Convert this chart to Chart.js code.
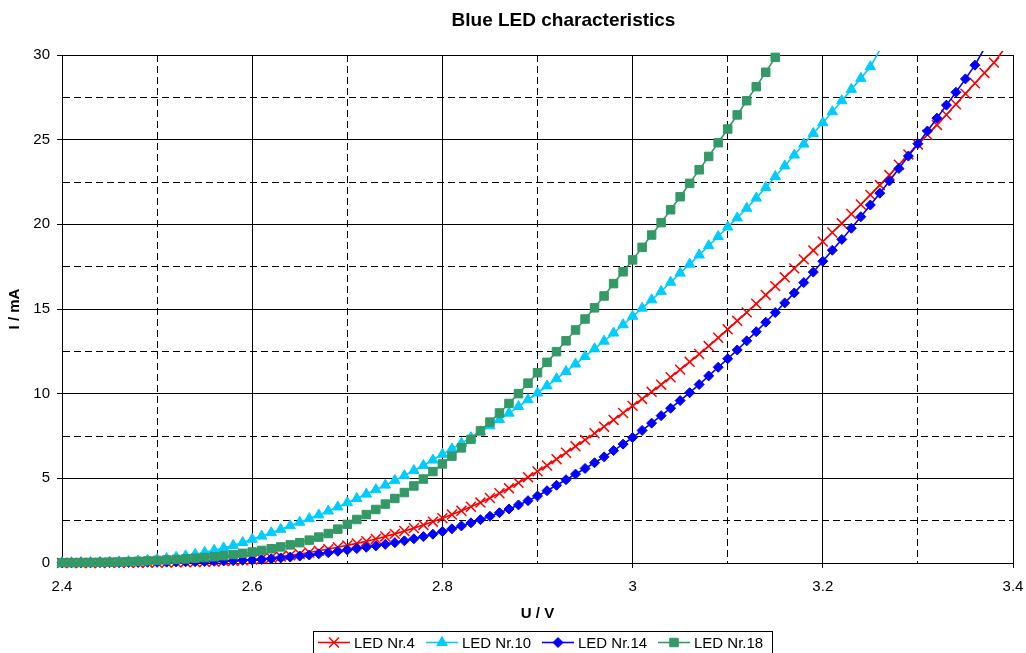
<!DOCTYPE html>
<html>
<head>
<meta charset="utf-8">
<script src="https://cdn.jsdelivr.net/npm/chart.js@4/dist/chart.umd.min.js"></script>
<style>
  html, body { margin: 0; padding: 0; background: #fff; }
  #wrap { width: 1026px; height: 653px; position: relative; }
</style>
</head>
<body>
<div id="wrap"><canvas id="c" width="1026" height="653"></canvas></div>
<script>
// ---- data ----
const voltage = [
  2.40,2.41,2.42,2.43,2.44,2.45,2.46,2.47,2.48,2.49,
  2.50,2.51,2.52,2.53,2.54,2.55,2.56,2.57,2.58,2.59,
  2.60,2.61,2.62,2.63,2.64,2.65,2.66,2.67,2.68,2.69,
  2.70,2.71,2.72,2.73,2.74,2.75,2.76,2.77,2.78,2.79,
  2.80,2.81,2.82,2.83,2.84,2.85,2.86,2.87,2.88,2.89,
  2.90,2.91,2.92,2.93,2.94,2.95,2.96,2.97,2.98,2.99,
  3.00,3.01,3.02,3.03,3.04,3.05,3.06,3.07,3.08,3.09,
  3.10,3.11,3.12,3.13,3.14,3.15,3.16,3.17,3.18,3.19,
  3.20,3.21,3.22,3.23,3.24,3.25,3.26,3.27,3.28,3.29,
  3.30,3.31,3.32,3.33,3.34,3.35,3.36,3.37,3.38,3.39
];

const led4 = [
  0.00,0.00,0.00,0.00,0.00,0.01,0.01,0.01,0.02,0.02,
  0.03,0.03,0.04,0.05,0.06,0.07,0.09,0.11,0.13,0.16,
  0.20,0.25,0.31,0.38,0.45,0.53,0.62,0.72,0.82,0.93,
  1.04,1.16,1.29,1.42,1.57,1.72,1.89,2.06,2.25,2.44,
  2.65,2.86,3.08,3.32,3.57,3.84,4.12,4.42,4.74,5.07,
  5.41,5.76,6.13,6.51,6.89,7.27,7.66,8.05,8.45,8.86,
  9.28,9.69,10.11,10.53,10.97,11.42,11.88,12.34,12.81,13.30,
  13.80,14.30,14.80,15.31,15.83,16.35,16.87,17.40,17.93,18.46,
  18.98,19.52,20.06,20.61,21.17,21.74,22.32,22.91,23.52,24.13,
  24.72,25.29,25.87,26.47,27.09,27.72,28.33,28.94,29.55,30.30
];

const led10 = [
  0.02,0.02,0.03,0.03,0.04,0.05,0.07,0.09,0.12,0.16,
  0.21,0.27,0.34,0.42,0.52,0.63,0.75,0.89,1.04,1.21,
  1.40,1.59,1.79,1.99,2.20,2.41,2.62,2.84,3.07,3.31,
  3.56,3.81,4.07,4.33,4.60,4.88,5.16,5.46,5.76,6.08,
  6.42,6.74,7.07,7.40,7.75,8.10,8.47,8.85,9.24,9.64,
  10.04,10.46,10.88,11.31,11.75,12.20,12.65,13.10,13.58,14.07,
  14.57,15.05,15.54,16.04,16.58,17.12,17.65,18.19,18.74,19.28,
  19.84,20.38,20.95,21.55,22.18,22.82,23.45,24.09,24.74,25.37,
  26.00,26.65,27.30,27.97,28.62,29.31,30.30
];

const led14 = [
  0.01,0.01,0.01,0.01,0.02,0.02,0.02,0.03,0.03,0.04,
  0.04,0.05,0.06,0.07,0.08,0.09,0.10,0.12,0.14,0.16,
  0.18,0.21,0.25,0.30,0.35,0.41,0.47,0.54,0.61,0.69,
  0.77,0.85,0.93,1.01,1.10,1.20,1.31,1.43,1.56,1.70,
  1.86,2.02,2.19,2.37,2.56,2.76,2.97,3.19,3.43,3.68,
  3.96,4.27,4.59,4.92,5.25,5.58,5.92,6.27,6.64,7.02,
  7.41,7.83,8.26,8.70,9.14,9.59,10.06,10.54,11.05,11.56,
  12.06,12.58,13.12,13.66,14.22,14.79,15.36,15.95,16.56,17.18,
  17.82,18.47,19.11,19.77,20.45,21.14,21.84,22.56,23.30,24.03,
  24.76,25.51,26.27,27.04,27.80,28.59,29.40,30.40
];

const led18 = [
  0.02,0.02,0.03,0.03,0.04,0.05,0.06,0.08,0.10,0.12,
  0.15,0.18,0.21,0.24,0.28,0.32,0.37,0.43,0.50,0.57,
  0.65,0.74,0.84,0.95,1.07,1.20,1.35,1.53,1.74,2.00,
  2.28,2.57,2.86,3.16,3.48,3.81,4.16,4.55,4.96,5.40,
  5.85,6.31,6.80,7.30,7.80,8.32,8.86,9.42,10.00,10.62,
  11.24,11.85,12.48,13.12,13.76,14.41,15.07,15.77,16.50,17.20,
  17.90,18.64,19.37,20.10,20.86,21.63,22.42,23.22,24.01,24.82,
  25.63,26.46,27.30,28.13,28.98,29.86
];

const seriesNames = ['LED Nr.4', 'LED Nr.10', 'LED Nr.14', 'LED Nr.18'];
const xTicks = [2.4, 2.5, 2.6, 2.7, 2.8, 2.9, 3.0, 3.1, 3.2, 3.3, 3.4];
const xMajorTicks = [2.4, 2.6, 2.8, 3.0, 3.2, 3.4];
const xTickLabels = ['2.4', '2.6', '2.8', '3', '3.2', '3.4'];
const yTicks = [0, 2.5, 5, 7.5, 10, 12.5, 15, 17.5, 20, 22.5, 25, 27.5, 30];
const yMajorTicks = [0, 5, 10, 15, 20, 25, 30];
const yTickLabels = ['0', '5', '10', '15', '20', '25', '30'];
const chartTitle = 'Blue LED characteristics';
const xTitle = 'U / V';
const yTitle = 'I / mA';

// ---- styling ----
const FONT = 'Arial, "Liberation Sans", sans-serif';
const YMAX = 30;
const styles = [
  { color: '#FF0000', pointStyle: 'crossRot', radius: 7, pbw: 1.5, order: 4 },
  { color: '#00CCFF', pointStyle: 'triangle', radius: 6, pbw: 1, order: 3 },
  { color: '#0000FF', pointStyle: 'rectRot', radius: 5, pbw: 1, order: 2 },
  { color: '#339966', pointStyle: 'rect', radius: 6, pbw: 1, order: 1 }
];
const seriesValues = [led4, led10, led14, led18];

function near(list, v) { return list.findIndex(m => Math.abs(m - v) < 1e-9); }

const datasets = seriesValues.map((vals, i) => ({
  label: seriesNames[i],
  data: vals.map((y, k) => ({ x: voltage[k], y: y })),
  borderColor: styles[i].color,
  backgroundColor: styles[i].color,
  borderWidth: 1.6,
  pointStyle: styles[i].pointStyle,
  pointRadius: ctx => (ctx.raw && ctx.raw.y > YMAX ? 0 : styles[i].radius),
  pointBorderWidth: styles[i].pbw,
  pointHoverRadius: styles[i].radius,
  tension: 0,
  order: styles[i].order,
  clip: { left: 8, right: 8, top: 4, bottom: 8 }
}));

const minorDash = [7, 4];

const overlay = {
  id: 'overlay',
  afterDraw(chart) {
    const ctx = chart.ctx;
    ctx.save();
    // title
    ctx.fillStyle = '#000';
    ctx.font = 'bold 19px ' + FONT;
    ctx.textAlign = 'center';
    ctx.textBaseline = 'alphabetic';
    ctx.fillText(chartTitle, 563.5, 26);

    // legend box
    ctx.strokeStyle = '#000';
    ctx.lineWidth = 1;
    ctx.strokeRect(313.5, 631.5, 459, 30);
    const textX = [354, 462, 578, 694];
    const ly = 642.5;
    ctx.font = '15px ' + FONT;
    ctx.textAlign = 'left';
    for (let i = 0; i < 4; i++) {
      const st = styles[i];
      const x0 = textX[i] - 36, x1 = textX[i] - 4;
      ctx.strokeStyle = st.color;
      ctx.fillStyle = st.color;
      ctx.lineWidth = 1.6;
      ctx.beginPath();
      ctx.moveTo(x0, ly);
      ctx.lineTo(x1, ly);
      ctx.stroke();
      ctx.lineWidth = st.pbw;
      Chart.helpers.drawPoint(ctx, { pointStyle: st.pointStyle, radius: st.radius, rotation: 0, borderWidth: st.pbw }, (x0 + x1) / 2, ly);
      ctx.fillStyle = '#000';
      ctx.fillText(seriesNames[i], textX[i], 648);
    }
    ctx.restore();
  }
};

Chart.defaults.font.family = FONT;
Chart.defaults.font.size = 15;
Chart.defaults.color = '#000';

new Chart(document.getElementById('c'), {
  type: 'line',
  data: { datasets },
  options: {
    responsive: false,
    animation: false,
    events: [],
    layout: { padding: { top: 55, right: 13, left: 0, bottom: 0 } },
    plugins: {
      legend: { display: false },
      title: { display: false },
      tooltip: { enabled: false }
    },
    scales: {
      x: {
        type: 'linear',
        min: 2.4,
        max: 3.4,
        afterBuildTicks: s => { s.ticks = xTicks.map(v => ({ value: v })); },
        afterFit: s => { s.height = 90; s.paddingLeft = 0; s.paddingRight = 0; },
        ticks: {
          autoSkip: false,
          maxRotation: 0,
          padding: 10,
          color: '#000',
          font: { size: 15 },
          callback: v => { const k = near(xMajorTicks, v); return k >= 0 ? xTickLabels[k] : ''; }
        },
        grid: {
          color: '#000',
          lineWidth: 1,
          tickLength: 5,
          tickColor: c => (c.tick && near(xMajorTicks, c.tick.value) < 0 ? 'rgba(0,0,0,0)' : '#000')
        },
        border: {
          display: true,
          color: '#000',
          width: 1,
          dash: c => (c.tick && near(xMajorTicks, c.tick.value) < 0 ? minorDash : [])
        },
        title: {
          display: true,
          text: xTitle,
          font: { size: 15, weight: 'bold' },
          padding: { top: 0, bottom: 30 }
        }
      },
      y: {
        type: 'linear',
        min: 0,
        max: YMAX,
        afterBuildTicks: s => { s.ticks = yTicks.map(v => ({ value: v })); },
        afterFit: s => { s.width = 62; s.paddingTop = 0; s.paddingBottom = 0; },
        ticks: {
          autoSkip: false,
          padding: 7,
          color: '#000',
          font: { size: 15 },
          callback: v => { const k = near(yMajorTicks, v); return k >= 0 ? yTickLabels[k] : ''; }
        },
        grid: {
          color: '#000',
          lineWidth: 1,
          tickLength: 5,
          tickColor: c => (c.tick && near(yMajorTicks, c.tick.value) < 0 ? 'rgba(0,0,0,0)' : '#000')
        },
        border: {
          display: true,
          color: '#000',
          width: 1,
          dash: c => (c.tick && near(yMajorTicks, c.tick.value) < 0 ? minorDash : [])
        },
        title: {
          display: true,
          text: yTitle,
          font: { size: 15, weight: 'bold' },
          padding: { top: 6, bottom: 0 }
        }
      }
    }
  },
  plugins: [overlay]
});
</script>
</body>
</html>
